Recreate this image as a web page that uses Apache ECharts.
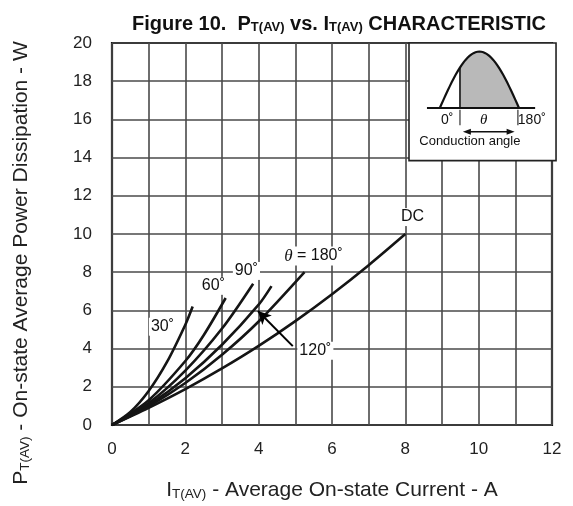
<!DOCTYPE html>
<html><head><meta charset="utf-8">
<script src="https://cdn.jsdelivr.net/npm/echarts@6/dist/echarts.min.js"></script>
<style>html,body{margin:0;padding:0;background:#fff}#c{width:573px;height:506px}</style>
</head><body><div id="c"></div>
<script>
// ---- data ----
const xTickLabels = [0, 2, 4, 6, 8, 10, 12];
const yTickLabels = [0, 2, 4, 6, 8, 10, 12, 14, 16, 18, 20];

const curveNames = ['30˚', '60˚', '90˚', '120˚', '180˚', 'DC'];
const x30  = [0, 0.5, 1.0, 1.5, 2.0, 2.2];
const y30  = [0, 0.68, 1.78, 3.3, 5.25, 6.2];
const x60  = [0, 1.0, 2.0, 2.5, 3.1];
const y60  = [0, 1.3, 3.35, 4.7, 6.65];
const x90  = [0, 1.0, 2.0, 3.0, 3.85];
const y90  = [0, 1.15, 2.85, 5.05, 7.4];
const x120 = [0, 1.0, 2.0, 3.0, 4.0, 4.35];
const y120 = [0, 1.05, 2.45, 4.2, 6.3, 7.27];
const x180 = [0, 1.0, 2.0, 3.0, 4.0, 5.25];
const y180 = [0, 0.98, 2.2, 3.68, 5.42, 8.0];
const xDC  = [0, 1, 2, 3, 4, 5, 6, 7, 8];
const yDC  = [0, 0.9, 1.88, 2.96, 4.14, 5.44, 6.85, 8.37, 10.0];

const labelX    = [1.39, 2.78, 3.68, 5.51, 8.21, 5.56];
const labelY    = [5.12, 7.26, 8.04, 8.82, 10.86, 3.86];
const labelText = ['30˚', '60˚', '90˚', '{it|θ} = 180˚', 'DC', '120˚'];
const arrowFrom = [4.93, 4.13];
const arrowTo   = [3.98, 5.97];

// ---- build ----
const FONT = '"Liberation Sans", Arial, Helvetica, sans-serif';
const zip = (xs, ys) => xs.map((x, i) => [x, ys[i]]);
const curves = [zip(x30, y30), zip(x60, y60), zip(x90, y90), zip(x120, y120), zip(x180, y180), zip(xDC, yDC)];

const chart = echarts.init(document.getElementById('c'), null, {renderer: 'canvas'});

const series = curves.map((d, i) => ({
  name: curveNames[i], type: 'line', data: d, smooth: 0.3, showSymbol: false,
  lineStyle: {color: '#151515', width: 2.6}, z: 3, silent: true
}));
series.push({
  type: 'scatter', symbolSize: 1, itemStyle: {color: '#fff', opacity: 1}, z: 5, silent: true,
  data: labelX.map((x, i) => ({value: [x, labelY[i]], txt: labelText[i]})),
  label: {
    show: true, position: [0, 0], align: 'center', verticalAlign: 'middle', opacity: 1,
    formatter: p => '{t|' + p.data.txt.replace('{it|θ}', '}{it|θ}{t|') + '}',
    backgroundColor: '#fff', padding: [1, 2],
    rich: {
      t: {color: '#111', fontFamily: FONT, fontSize: 16, textBorderWidth: 0, opacity: 1},
      it: {fontStyle: 'italic', fontFamily: '"Liberation Serif", serif', fontSize: 17, color: '#111', textBorderWidth: 0, opacity: 1}
    }
  },
  markLine: {
    silent: true, symbol: ['none', 'arrow'], symbolSize: [10, 13],
    lineStyle: {color: '#000', width: 2, type: 'solid'}, label: {show: false},
    data: [[{coord: arrowFrom}, {coord: arrowTo}]]
  }
});

const option = {
  animation: false,
  backgroundColor: '#fff',
  title: {
    text: '{b|Figure 10.  P}{s|T(AV)}{b| vs. I}{s|T(AV)}{b| CHARACTERISTIC}',
    left: 334, top: 6, textAlign: 'center',
    textStyle: {
      rich: {
        b: {fontFamily: FONT, fontWeight: 'bold', fontSize: 20, color: '#111', lineHeight: 23, verticalAlign: 'bottom'},
        s: {fontFamily: FONT, fontWeight: 'bold', fontSize: 13, color: '#111', lineHeight: 23, verticalAlign: 'bottom'}
      }
    }
  },
  grid: {left: 112, right: 21, top: 43, bottom: 80, show: true, borderColor: '#111', borderWidth: 2.2, backgroundColor: 'transparent'},
  xAxis: {
    type: 'value', min: 0, max: 12, interval: 1,
    axisLine: {show: false}, axisTick: {show: false},
    splitLine: {show: true, lineStyle: {color: '#4a4a4a', width: 1.6}},
    axisLabel: {
      margin: 16, color: '#222', fontFamily: FONT, fontSize: 17,
      formatter: v => (xTickLabels.indexOf(v) >= 0 ? String(v) : '')
    },
    name: '{n|I}{s|T(AV)}{n| - Average On-state Current - A}',
    nameLocation: 'middle', nameGap: 51,
    nameTextStyle: {
      rich: {
        n: {fontFamily: FONT, fontSize: 21, color: '#222', lineHeight: 25, verticalAlign: 'bottom'},
        s: {fontFamily: FONT, fontSize: 13.5, color: '#222', lineHeight: 25, verticalAlign: 'bottom'}
      }
    }
  },
  yAxis: {
    type: 'value', min: 0, max: 20, interval: 2,
    axisLine: {show: false}, axisTick: {show: false},
    splitLine: {show: true, lineStyle: {color: '#4a4a4a', width: 1.6}},
    axisLabel: {
      margin: 20, color: '#222', fontFamily: FONT, fontSize: 17,
      formatter: v => (yTickLabels.indexOf(v) >= 0 ? String(v) : '')
    },
    name: '{n|P}{s|T(AV)}{n| - On-state Average Power Dissipation - W}',
    nameLocation: 'middle', nameGap: 80, nameRotate: 90,
    nameTextStyle: {
      padding: [0, 58, 0, 0],
      rich: {
        n: {fontFamily: FONT, fontSize: 21, color: '#222', lineHeight: 25, verticalAlign: 'bottom'},
        s: {fontFamily: FONT, fontSize: 13.5, color: '#222', lineHeight: 25, verticalAlign: 'bottom'}
      }
    }
  },
  series: series
};
chart.setOption(option);

// ---- inset illustration (conduction angle), placed in axis coordinates ----
const insetBox   = [8.1, 13.84, 12.11, 20];     // x0, y0, x1, y1
const insetBase  = [8.59, 11.54, 16.6];         // x0, x1, y
const insetWave  = [8.94, 11.10, 19.55];        // start, end, peak y
const insetCond  = 9.49;                        // conduction start
const insetTicks = [9.49, 11.07, 16.5, 15.7];   // x a, x b, y top, y bottom
const insetArrow = [9.57, 10.98, 15.35];        // x0, x1, y
const insetText  = [[9.14, 15.95, '0˚', 14], [10.14, 15.98, 'θ', 15], [11.45, 15.95, '180˚', 14], [9.76, 14.84, 'Conduction angle', 13]];

function P(x, y) { return chart.convertToPixel({gridIndex: 0}, [x, y]); }
function buildInset() {
  const a = P(insetBox[0], insetBox[3]), b = P(insetBox[2], insetBox[1]);
  const els = [];
  els.push({type: 'rect', shape: {x: a[0], y: a[1], width: b[0] - a[0], height: b[1] - a[1]},
    style: {fill: '#fff', stroke: '#222', lineWidth: 1.6}, z: 10});
  const ws = insetWave[0], we = insetWave[1], base = insetBase[2], amp = insetWave[2] - base;
  const wavePts = [], shadePts = [];
  const N = 40;
  for (let i = 0; i <= N; i++) {
    const x = ws + (we - ws) * i / N;
    const y = base + amp * Math.sin(Math.PI * i / N);
    wavePts.push(P(x, y));
    if (x >= insetCond) shadePts.push(P(x, y));
  }
  const condY = base + amp * Math.sin(Math.PI * (insetCond - ws) / (we - ws));
  shadePts.unshift(P(insetCond, condY));
  shadePts.unshift(P(insetCond, base));
  shadePts.push(P(we, base));
  els.push({type: 'polygon', shape: {points: shadePts}, style: {fill: '#b9b9b9'}, z: 11});
  els.push({type: 'polyline', shape: {points: wavePts}, style: {stroke: '#111', lineWidth: 2.2, fill: null}, z: 12});
  const c0 = P(insetCond, base), c1 = P(insetCond, condY);
  els.push({type: 'line', shape: {x1: c0[0], y1: c0[1], x2: c1[0], y2: c1[1]}, style: {stroke: '#111', lineWidth: 1.6}, z: 12});
  const b0 = P(insetBase[0], base), b1 = P(insetBase[1], base);
  els.push({type: 'line', shape: {x1: b0[0], y1: b0[1], x2: b1[0], y2: b1[1]}, style: {stroke: '#111', lineWidth: 2}, z: 12});
  [insetTicks[0], insetTicks[1]].forEach(x => {
    const t0 = P(x, insetTicks[2]), t1 = P(x, insetTicks[3]);
    els.push({type: 'line', shape: {x1: t0[0], y1: t0[1], x2: t1[0], y2: t1[1]}, style: {stroke: '#333', lineWidth: 1.2}, z: 12});
  });
  const a0 = P(insetArrow[0], insetArrow[2]), a1 = P(insetArrow[1], insetArrow[2]);
  els.push({type: 'line', shape: {x1: a0[0] + 4, y1: a0[1], x2: a1[0] - 4, y2: a1[1]}, style: {stroke: '#111', lineWidth: 1.4}, z: 12});
  els.push({type: 'polygon', shape: {points: [[a0[0], a0[1]], [a0[0] + 8, a0[1] - 3], [a0[0] + 8, a0[1] + 3]]}, style: {fill: '#111'}, z: 12});
  els.push({type: 'polygon', shape: {points: [[a1[0], a1[1]], [a1[0] - 8, a1[1] - 3], [a1[0] - 8, a1[1] + 3]]}, style: {fill: '#111'}, z: 12});
  insetText.forEach(t => {
    const p = P(t[0], t[1]);
    const isTheta = t[2] === 'θ';
    els.push({type: 'text', x: p[0], y: p[1], z: 13,
      style: {text: t[2], fill: '#111', align: 'center', verticalAlign: 'middle',
        font: (isTheta ? 'italic ' + t[3] + 'px "Liberation Serif", serif' : t[3] + 'px ' + FONT)}});
  });
  chart.setOption({graphic: {elements: els}});
}
buildInset();
</script>
</body></html>
